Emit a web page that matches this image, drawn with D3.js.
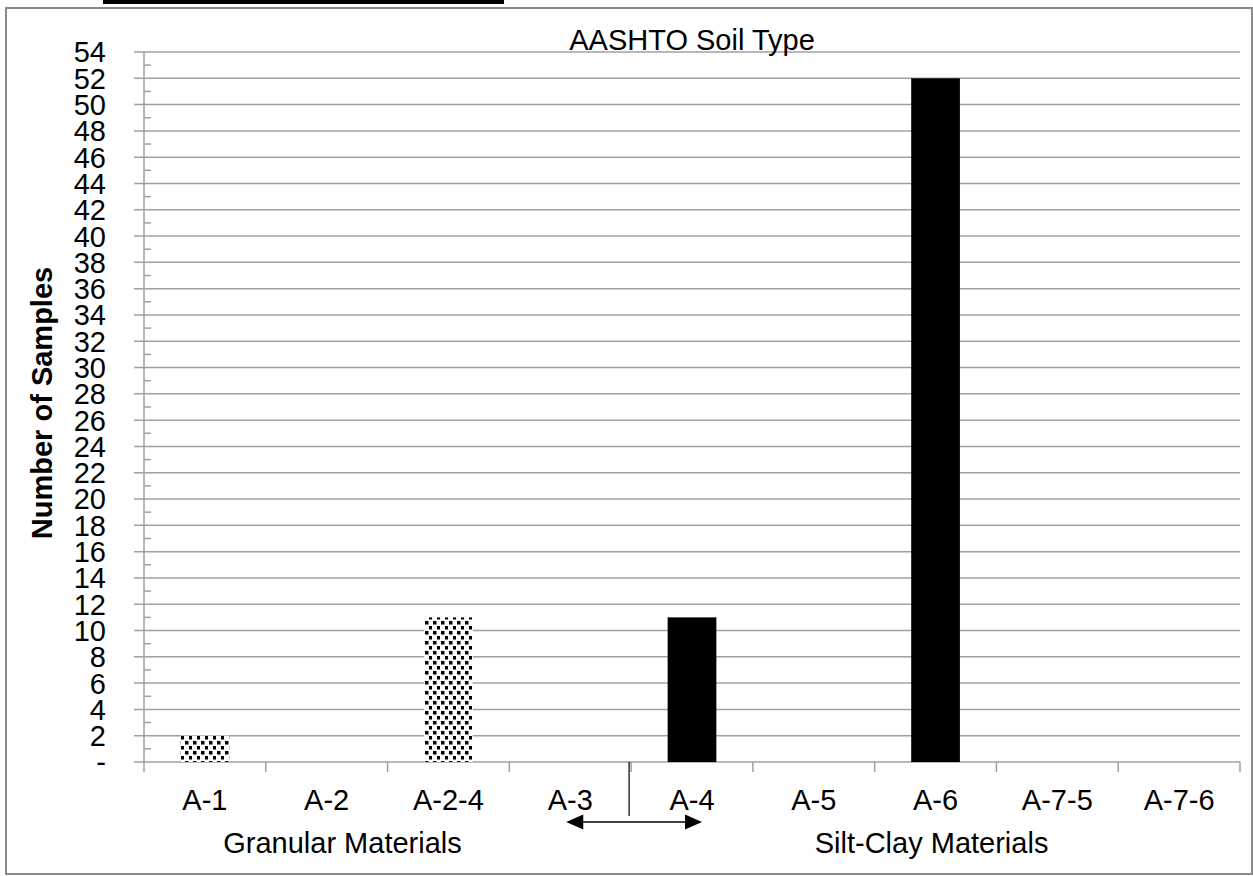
<!DOCTYPE html>
<html>
<head>
<meta charset="utf-8">
<script src="https://cdn.jsdelivr.net/npm/d3@7"></script>
<style>
  html, body { margin: 0; padding: 0; background: #fff; }
  svg { display: block; font-family: "Liberation Sans", Arial, sans-serif; }
</style>
</head>
<body>
<svg id="chart" width="1253" height="876"></svg>
<script>
// ---- data ----
const categories = ["A-1", "A-2", "A-2-4", "A-3", "A-4", "A-5", "A-6", "A-7-5", "A-7-6"];
const values     = [2, 0, 11, 0, 11, 0, 52, 0, 0];
const fillTypes  = ["pattern", "pattern", "pattern", "pattern", "solid", "solid", "solid", "solid", "solid"];
const yTicks     = d3.range(0, 55, 2);
const yMinor     = d3.range(1, 54, 2);
const yTickLabels = yTicks.map(v => v === 0 ? "-" : String(v));
const groupLabels = ["Granular Materials", "Silt-Clay Materials"];
const titleText  = "AASHTO Soil Type";
const yTitle     = "Number of Samples";

// ---- layout ----
const svg = d3.select("#chart");
const plot = { left: 144, right: 1240, top: 52, bottom: 762 };
const gridColor = "#a0a0a0";
const fs = 29;

const x = d3.scaleBand().domain(categories).range([plot.left, plot.right])
  .paddingInner(0.6).paddingOuter(0.3);
const y = d3.scaleLinear().domain([0, 54]).range([plot.bottom, plot.top]);
const step = x.step();

// top black bar and outer border
svg.append("rect").attr("x", 103).attr("y", 0).attr("width", 401).attr("height", 4).attr("fill", "#000");
svg.append("rect").attr("x", 6).attr("y", 8).attr("width", 1246).attr("height", 866)
  .attr("fill", "none").attr("stroke", "#8a8a8a").attr("stroke-width", 2);

// pattern
const defs = svg.append("defs");
const pat = defs.append("pattern").attr("id", "dots").attr("patternUnits", "userSpaceOnUse")
  .attr("width", 8).attr("height", 10);
pat.append("rect").attr("width", 8).attr("height", 10).attr("fill", "#fff");
pat.append("rect").attr("x", 1).attr("y", 1).attr("width", 3.5).attr("height", 3.5).attr("fill", "#000");
pat.append("rect").attr("x", 5).attr("y", 6).attr("width", 3.5).attr("height", 3.5).attr("fill", "#000");

// gridlines
svg.append("g").selectAll("line").data(yTicks).join("line")
  .attr("x1", plot.left - 10).attr("x2", plot.right)
  .attr("y1", d => y(d)).attr("y2", d => y(d))
  .attr("stroke", gridColor).attr("stroke-width", 1.5);

// minor ticks
svg.append("g").selectAll("line").data(yMinor).join("line")
  .attr("x1", plot.left).attr("x2", plot.left + 7)
  .attr("y1", d => y(d)).attr("y2", d => y(d))
  .attr("stroke", gridColor).attr("stroke-width", 1.5);

// y axis line
svg.append("line").attr("x1", plot.left).attr("x2", plot.left)
  .attr("y1", y(54)).attr("y2", y(0) + 1)
  .attr("stroke", gridColor).attr("stroke-width", 1.5);

// y tick labels
svg.append("g").selectAll("text").data(yTicks).join("text")
  .attr("x", 106).attr("y", d => y(d))
  .attr("dy", "0.36em")
  .attr("text-anchor", "end")
  .attr("font-size", fs)
  .text((d, i) => yTickLabels[i]);

// bars
svg.append("g").selectAll("rect").data(categories.map((c, i) => ({ c, v: values[i], f: fillTypes[i] })))
  .join("rect")
  .filter(d => d.v > 0)
  .attr("x", d => x(d.c)).attr("width", x.bandwidth())
  .attr("y", d => y(d.v)).attr("height", d => y(0) - y(d.v))
  .attr("fill", d => d.f === "pattern" ? "url(#dots)" : "#000");

// category ticks
const boundaries = d3.range(0, categories.length + 1).map(i => plot.left + i * step);
svg.append("g").selectAll("line").data(boundaries).join("line")
  .attr("x1", d => d).attr("x2", d => d)
  .attr("y1", y(0)).attr("y2", y(0) + 10)
  .attr("stroke", gridColor).attr("stroke-width", 1.5);

// category labels
svg.append("g").selectAll("text").data(categories).join("text")
  .attr("x", d => x(d) + x.bandwidth() / 2).attr("y", 810)
  .attr("text-anchor", "middle").attr("font-size", fs)
  .text(d => d);

// group labels
const groupX = [plot.left + 1.63 * step, (boundaries[4] + boundaries[9]) / 2 - 4];
svg.append("g").selectAll("text").data(groupLabels).join("text")
  .attr("x", (d, i) => groupX[i]).attr("y", 853)
  .attr("text-anchor", "middle").attr("font-size", fs)
  .text(d => d);

// divider and double arrow
const divX = x("A-4") - (step - x.bandwidth()) / 2 - 2;
svg.append("line").attr("x1", divX).attr("x2", divX).attr("y1", y(0)).attr("y2", 816)
  .attr("stroke", "#000").attr("stroke-width", 1.2);
const ax1 = x("A-3") + x.bandwidth() / 2 - 4;
const ax2 = x("A-4") + x.bandwidth() / 2 + 10;
const ay = 822;
svg.append("line").attr("x1", ax1 + 12).attr("x2", ax2 - 12).attr("y1", ay).attr("y2", ay)
  .attr("stroke", "#000").attr("stroke-width", 1.5);
svg.append("path").attr("d", `M${ax1},${ay} L${ax1 + 17},${ay - 7.5} L${ax1 + 17},${ay + 7.5} Z`).attr("fill", "#000");
svg.append("path").attr("d", `M${ax2},${ay} L${ax2 - 17},${ay - 7.5} L${ax2 - 17},${ay + 7.5} Z`).attr("fill", "#000");

// title
svg.append("text").attr("x", 692).attr("y", 50).attr("text-anchor", "middle")
  .attr("font-size", fs).text(titleText);

// y title
svg.append("text").attr("transform", "translate(52,403) rotate(-90)")
  .attr("text-anchor", "middle").attr("font-size", fs).attr("font-weight", "bold")
  .text(yTitle);
</script>
</body>
</html>
